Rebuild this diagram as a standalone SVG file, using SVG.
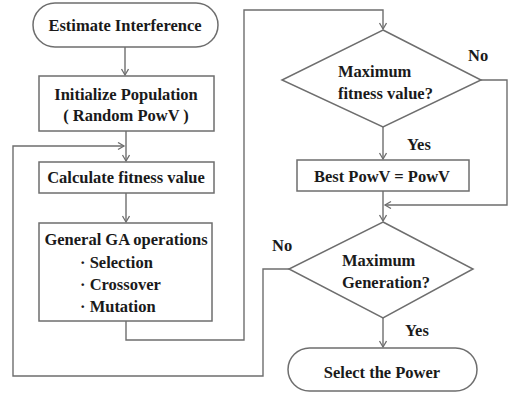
<svg xmlns="http://www.w3.org/2000/svg" width="511" height="393" viewBox="0 0 511 393">
<style>
.box{fill:#fff;stroke:#6e6e6e;stroke-width:1.5}
.ln{fill:none;stroke:#6e6e6e;stroke-width:1.4}
text{font-family:'Liberation Serif','DejaVu Serif',serif;font-weight:bold;font-size:16.5px;fill:#1a1a1a}
.c{text-anchor:middle}
</style>
<defs>
<marker id="ah" markerWidth="10" markerHeight="10" refX="7" refY="4" orient="auto" markerUnits="userSpaceOnUse">
<path d="M1,0.5 L7,4 L1,7.5" fill="none" stroke="#6e6e6e" stroke-width="1.3"/>
</marker>
</defs>
<rect width="511" height="393" fill="#fff"/>
<g id="connectors">
<line class="ln" x1="125" y1="47" x2="125" y2="75" marker-end="url(#ah)"/>
<line class="ln" x1="126" y1="131" x2="126" y2="161" marker-end="url(#ah)"/>
<polyline class="ln" points="289,269 263,269 263,376 13,376 13,146 124,146" marker-end="url(#ah)"/>
<line class="ln" x1="126" y1="193" x2="126" y2="222" marker-end="url(#ah)"/>
<polyline class="ln" points="126,321 126,340 244,340 244,10 383,10 383,29" marker-end="url(#ah)"/>
<polyline class="ln" points="481,80 507,80 507,205 385,205" marker-end="url(#ah)"/>
<line class="ln" x1="383" y1="127" x2="383" y2="159" marker-end="url(#ah)"/>
<line class="ln" x1="383" y1="191" x2="383" y2="221" marker-end="url(#ah)"/>
<line class="ln" x1="383" y1="318" x2="383" y2="347" marker-end="url(#ah)"/>
<text x="468" y="61">No</text>
<text x="407" y="150">Yes</text>
<text x="272" y="251">No</text>
<text x="405" y="336">Yes</text>
</g>
<g id="start">
<rect class="box" x="33" y="3" width="185" height="44" rx="22"/>
<text class="c" x="125" y="31">Estimate Interference</text>
</g>
<g id="init">
<rect class="box" x="39" y="76" width="175" height="55"/>
<text class="c" x="126" y="100">Initialize Population</text>
<text class="c" x="126" y="121">( Random PowV )</text>
</g>
<g id="calc">
<rect class="box" x="39" y="162" width="175" height="31"/>
<text class="c" x="126" y="183">Calculate fitness value</text>
</g>
<g id="ga">
<rect class="box" x="39" y="223" width="173" height="98"/>
<text class="c" x="126" y="245">General GA operations</text>
<text x="80" y="268">· Selection</text>
<text x="80" y="290">· Crossover</text>
<text x="80" y="312">· Mutation</text>
</g>
<g id="maxfit">
<polygon class="box" points="383,30 481,80 383,127 282,80"/>
<text x="338" y="77">Maximum</text>
<text x="338" y="99">fitness value?</text>
</g>
<g id="best">
<rect class="box" x="297" y="160" width="172" height="31"/>
<text class="c" x="382" y="182">Best PowV = PowV</text>
</g>
<g id="maxgen">
<polygon class="box" points="383,222 473,269 383,318 289,269"/>
<text x="342" y="266">Maximum</text>
<text x="342" y="288">Generation?</text>
</g>
<g id="end">
<rect class="box" x="288" y="348" width="189" height="43" rx="21.5"/>
<text class="c" x="382" y="378">Select the Power</text>
</g>
</svg>
